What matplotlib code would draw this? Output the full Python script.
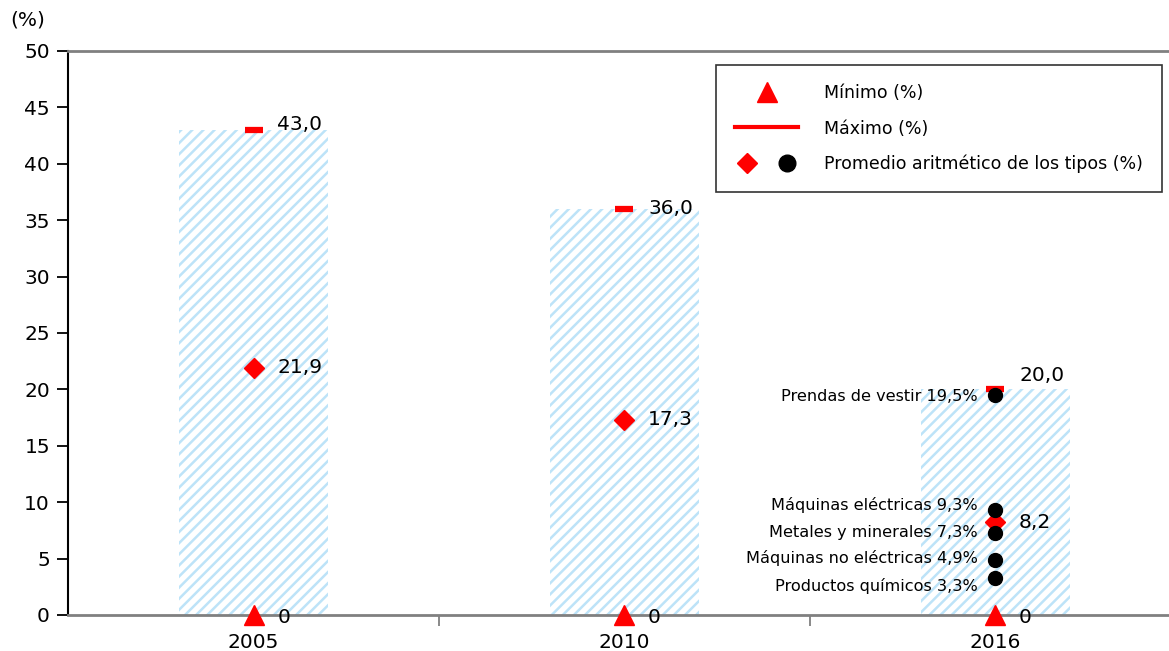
import matplotlib.pyplot as plt
from matplotlib.lines import Line2D
from matplotlib.legend_handler import HandlerTuple
import numpy as np

years = ['2005', '2010', '2016']
maximo = [43.0, 36.0, 20.0]
minimo = [0, 0, 0]
promedio = [21.9, 17.3, 8.2]

sectores = ['Prendas de vestir', 'Máquinas eléctricas', 'Metales y minerales',
            'Máquinas no eléctricas', 'Productos químicos']
sector_vals = [19.5, 9.3, 7.3, 4.9, 3.3]

def fmt(v):
    return ('%.1f' % v).replace('.', ',')

plt.rcParams['hatch.linewidth'] = 1.8
fig = plt.figure(figsize=(11.69, 6.51), dpi=100)
ax = fig.add_axes([0.0582, 0.0553, 0.952, 0.8664])

x = np.arange(len(years)) + 0.5
ax.bar(x, maximo, width=0.4, color='white', edgecolor='#bde3f8',
       hatch='///', linewidth=0, zorder=1)

ax.plot(x, maximo, ls='none', marker='_', ms=13, mew=4.5, color='red', zorder=3)
ax.plot(x, minimo, ls='none', marker='^', ms=14, color='red', zorder=4, clip_on=False)
ax.plot(x, promedio, ls='none', marker='D', ms=10, color='red', zorder=3)
ax.plot([x[2]] * len(sector_vals), sector_vals, ls='none', marker='o', ms=10,
        color='black', zorder=4)

# value labels
max_dy = [4, 0, 10]
for xi, v, dy in zip(x, maximo, max_dy):
    ax.annotate(fmt(v), (xi, v), xytext=(17, dy), textcoords='offset points',
                va='center', ha='left', fontsize=14.5)
for xi, v in zip(x, promedio):
    ax.annotate(fmt(v), (xi, v), xytext=(17, 0), textcoords='offset points',
                va='center', ha='left', fontsize=14.5)
for xi, v in zip(x, minimo):
    ax.annotate('%d' % v, (xi, v), xytext=(17, -2), textcoords='offset points',
                va='center', ha='left', fontsize=14.5)

sec_dy = [-1, 4, 0, 1, -6]
for name, v, dy in zip(sectores, sector_vals, sec_dy):
    ax.annotate('%s %s%%' % (name, fmt(v)), (x[2], v), xytext=(-13, dy),
                textcoords='offset points', va='center', ha='right', fontsize=11.6)

ax.set_xlim(0, 3)
ax.set_ylim(0, 50)
ax.set_yticks(np.arange(0, 51, 5))
ax.set_xticks(x)
ax.set_xticklabels(years)
ax.set_xticks([1, 2, 3], minor=True)
ax.tick_params(axis='x', which='major', length=0, labelsize=14.5, pad=13)
ax.tick_params(axis='x', which='minor', length=8, color='#808080', width=1.3)
ax.tick_params(axis='y', length=8, width=1.3, labelsize=14.5, pad=5)

ax.spines['right'].set_visible(False)
ax.spines['top'].set_color('#808080')
ax.spines['top'].set_linewidth(2)
ax.spines['bottom'].set_color('#808080')
ax.spines['bottom'].set_linewidth(2)
ax.spines['left'].set_linewidth(1.5)

fig.text(0.024, 0.969, '(%)', fontsize=14.5, ha='center', va='center')

h_min = Line2D([], [], ls='none', marker='^', ms=14, color='red')
h_max = Line2D([], [], color='red', lw=3)
h_dia = Line2D([], [], ls='none', marker='D', ms=10, color='red')
h_dot = Line2D([], [], ls='none', marker='o', ms=12, color='black')
leg = ax.legend([h_min, h_max, (h_dia, h_dot)],
                ['Mínimo (%)', 'Máximo (%)', 'Promedio aritmético de los tipos (%)'],
                handler_map={tuple: HandlerTuple(ndivide=None, pad=1.0)},
                loc='upper right', bbox_to_anchor=(0.983, 0.975),
                fontsize=12.5, frameon=True, fancybox=False, edgecolor='black',
                handlelength=3.6, handletextpad=1.5, labelspacing=1.0,
                borderpad=1.1, borderaxespad=0)
leg.get_frame().set_linewidth(1.2)

fig.savefig('out.png', dpi=100)
